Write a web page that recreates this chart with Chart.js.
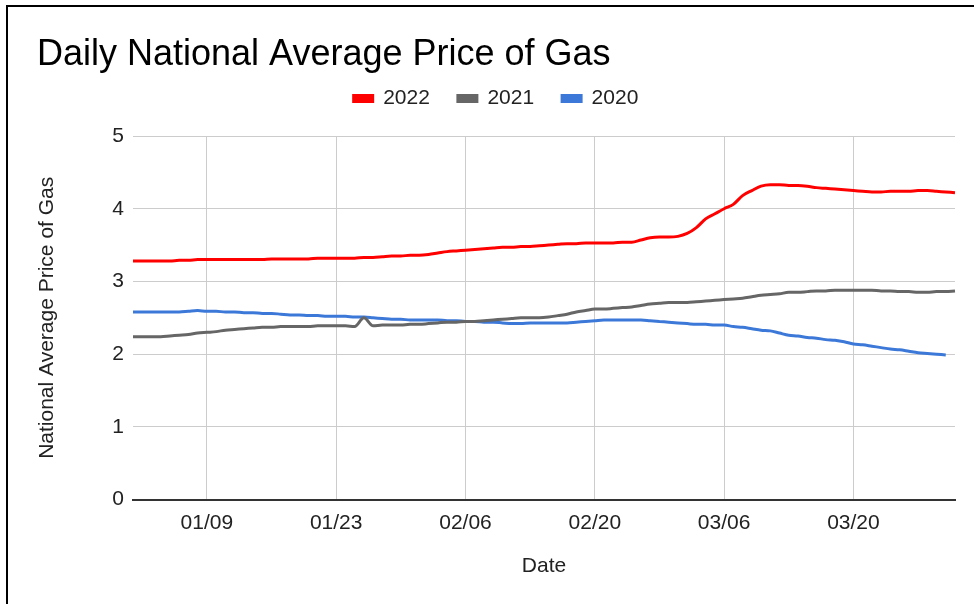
<!DOCTYPE html>
<html>
<head>
<meta charset="utf-8">
<title>Daily National Average Price of Gas</title>
<script src="https://cdn.jsdelivr.net/npm/chart.js@4/dist/chart.umd.min.js"></script>
<style>
  html, body { margin: 0; padding: 0; background: #fff; }
  #wrap { position: relative; width: 974px; height: 604px; overflow: hidden; }
  #frame { position: absolute; left: 6px; top: 5px; right: -10px; bottom: -10px;
           border-top: 2px solid #000; border-left: 2px solid #000; pointer-events: none; }
</style>
</head>
<body>
<div id="wrap">
  <canvas id="gasChart" width="974" height="604"></canvas>
  <div id="frame"></div>
</div>
<script>
// month lengths for Jan..Mar, used to build the daily "MM/DD" labels
const monthDays = [31, 28, 31];

const price2022 = [
  3.28, 3.28, 3.28, 3.28, 3.28, 3.29, 3.29, 3.30,
  3.30, 3.30, 3.30, 3.30, 3.30, 3.30, 3.30, 3.31,
  3.31, 3.31, 3.31, 3.31, 3.32, 3.32,
  3.32, 3.32, 3.32, 3.33, 3.33, 3.34, 3.35, 3.35,
  3.36, 3.36, 3.37, 3.39, 3.41, 3.42,
  3.43, 3.44, 3.45, 3.46, 3.47, 3.47, 3.48, 3.48,
  3.49, 3.50, 3.51, 3.52, 3.52, 3.53,
  3.53, 3.53, 3.53, 3.54, 3.54, 3.57,
  3.60, 3.61, 3.61, 3.62, 3.66, 3.74,
  3.86, 3.93, 4.00, 4.06, 4.18, 4.25,
  4.31, 4.33, 4.33, 4.32, 4.32, 4.31,
  4.29, 4.28, 4.27, 4.26, 4.25, 4.24,
  4.23, 4.23, 4.24, 4.24, 4.24, 4.25,
  4.25, 4.24, 4.23, 4.22
];

const price2021 = [
  2.24, 2.24, 2.24, 2.24, 2.25, 2.26, 2.27, 2.29,
  2.30, 2.31, 2.33, 2.34, 2.35, 2.36, 2.37, 2.37,
  2.38, 2.38, 2.38, 2.38, 2.39, 2.39,
  2.39, 2.39, 2.38, 2.50, 2.39, 2.40, 2.40, 2.40,
  2.41, 2.41, 2.42, 2.43, 2.44, 2.44,
  2.45, 2.45, 2.46, 2.47, 2.48, 2.49, 2.50, 2.50,
  2.50, 2.51, 2.53, 2.55, 2.58, 2.60,
  2.62, 2.62, 2.63, 2.64, 2.65, 2.67,
  2.69, 2.70, 2.71, 2.71, 2.71, 2.72,
  2.73, 2.74, 2.75, 2.76, 2.77, 2.79,
  2.81, 2.82, 2.83, 2.85, 2.85, 2.86,
  2.87, 2.87, 2.88, 2.88, 2.88, 2.88,
  2.88, 2.87, 2.87, 2.86, 2.86, 2.85,
  2.85, 2.86, 2.86, 2.87
];

const price2020 = [
  2.58, 2.58, 2.58, 2.58, 2.58, 2.58, 2.59, 2.60,
  2.59, 2.59, 2.58, 2.58, 2.57, 2.57, 2.56, 2.56,
  2.55, 2.54, 2.54, 2.53, 2.53, 2.52,
  2.52, 2.52, 2.51, 2.51, 2.50, 2.49, 2.48, 2.48,
  2.47, 2.47, 2.47, 2.47, 2.46, 2.46,
  2.45, 2.45, 2.44, 2.44, 2.43, 2.42, 2.42, 2.43,
  2.43, 2.43, 2.43, 2.43, 2.44, 2.45,
  2.46, 2.47, 2.47, 2.47, 2.47, 2.47,
  2.46, 2.45, 2.44, 2.43, 2.42, 2.41,
  2.41, 2.40, 2.40, 2.38, 2.37, 2.35,
  2.33, 2.32, 2.29, 2.26, 2.25, 2.23,
  2.22, 2.20, 2.19, 2.17, 2.14, 2.13,
  2.11, 2.09, 2.07, 2.06, 2.04, 2.02,
  2.01, 2.00, 1.99
];

const seriesNames = ['2022', '2021', '2020'];
const seriesColors = ['#ff0000', '#666666', '#3c78d8'];

// categories: every day from 01/01 to 03/31
const dateLabels = [];
monthDays.forEach((n, m) => {
  for (let d = 1; d <= n; d++) {
    dateLabels.push(String(m + 1).padStart(2, '0') + '/' + String(d).padStart(2, '0'));
  }
});

// a labelled tick (and grid line) every 14 days, starting at 01/09
const firstTick = 8;
const tickEvery = 14;
const isShownTick = i => i >= firstTick && (i - firstTick) % tickEvery === 0;

const FONT = "'Liberation Sans', Arial, sans-serif";
const TEXT = '#222';

// pushes the plot area down below the legend
const legendGap = {
  id: 'legendGap',
  beforeInit(chart) {
    const fit = chart.legend.fit;
    chart.legend.fit = function () {
      fit.bind(chart.legend)();
      this.height += 17;
    };
  }
};

const ctx = document.getElementById('gasChart').getContext('2d');
const gasChart = new Chart(ctx, {
  type: 'line',
  data: {
    labels: dateLabels,
    datasets: [price2022, price2021, price2020].map((vals, i) => ({
      label: seriesNames[i],
      data: vals,
      borderColor: seriesColors[i],
      backgroundColor: seriesColors[i],
      borderWidth: 3,
      pointRadius: 0,
      cubicInterpolationMode: 'monotone',
      fill: false
    }))
  },
  plugins: [legendGap],
  options: {
    responsive: false,
    animation: false,
    layout: { padding: { left: 37, right: 19, top: 0, bottom: 21 } },
    plugins: {
      title: {
        display: true,
        text: 'Daily National Average Price of Gas',
        align: 'start',
        color: '#000',
        font: { family: FONT, size: 36, weight: 'normal', lineHeight: 1 },
        padding: { top: 37, bottom: -13 }
      },
      legend: {
        position: 'top',
        align: 'center',
        labels: {
          color: TEXT,
          font: { family: FONT, size: 21 },
          boxWidth: 19,
          boxHeight: 6,
          padding: 28
        }
      },
      tooltip: { enabled: false }
    },
    scales: {
      x: {
        offset: false,
        grid: {
          color: c => isShownTick(c.index) ? '#cccccc' : 'rgba(0,0,0,0)',
          lineWidth: 1,
          drawTicks: false
        },
        border: { color: '#333', width: 2 },
        ticks: {
          autoSkip: false,
          maxRotation: 0,
          minRotation: 0,
          padding: 11,
          color: TEXT,
          font: { family: FONT, size: 21 },
          callback: function (val, i) {
            return isShownTick(i) ? this.getLabelForValue(val) : '';
          }
        },
        title: {
          display: true,
          text: 'Date',
          color: TEXT,
          font: { family: FONT, size: 21 },
          padding: { top: 7, bottom: 4 }
        }
      },
      y: {
        min: 0,
        max: 5,
        grid: { color: '#cccccc', lineWidth: 1, drawTicks: false },
        border: { display: false },
        ticks: {
          stepSize: 1,
          padding: 9,
          color: TEXT,
          font: { family: FONT, size: 21 }
        },
        title: {
          display: true,
          text: 'National Average Price of Gas',
          color: TEXT,
          font: { family: FONT, size: 21 },
          padding: { top: -2, bottom: 0 }
        },
        afterFit(scale) { scale.width = 96; }
      }
    }
  }
});
</script>
</body>
</html>
